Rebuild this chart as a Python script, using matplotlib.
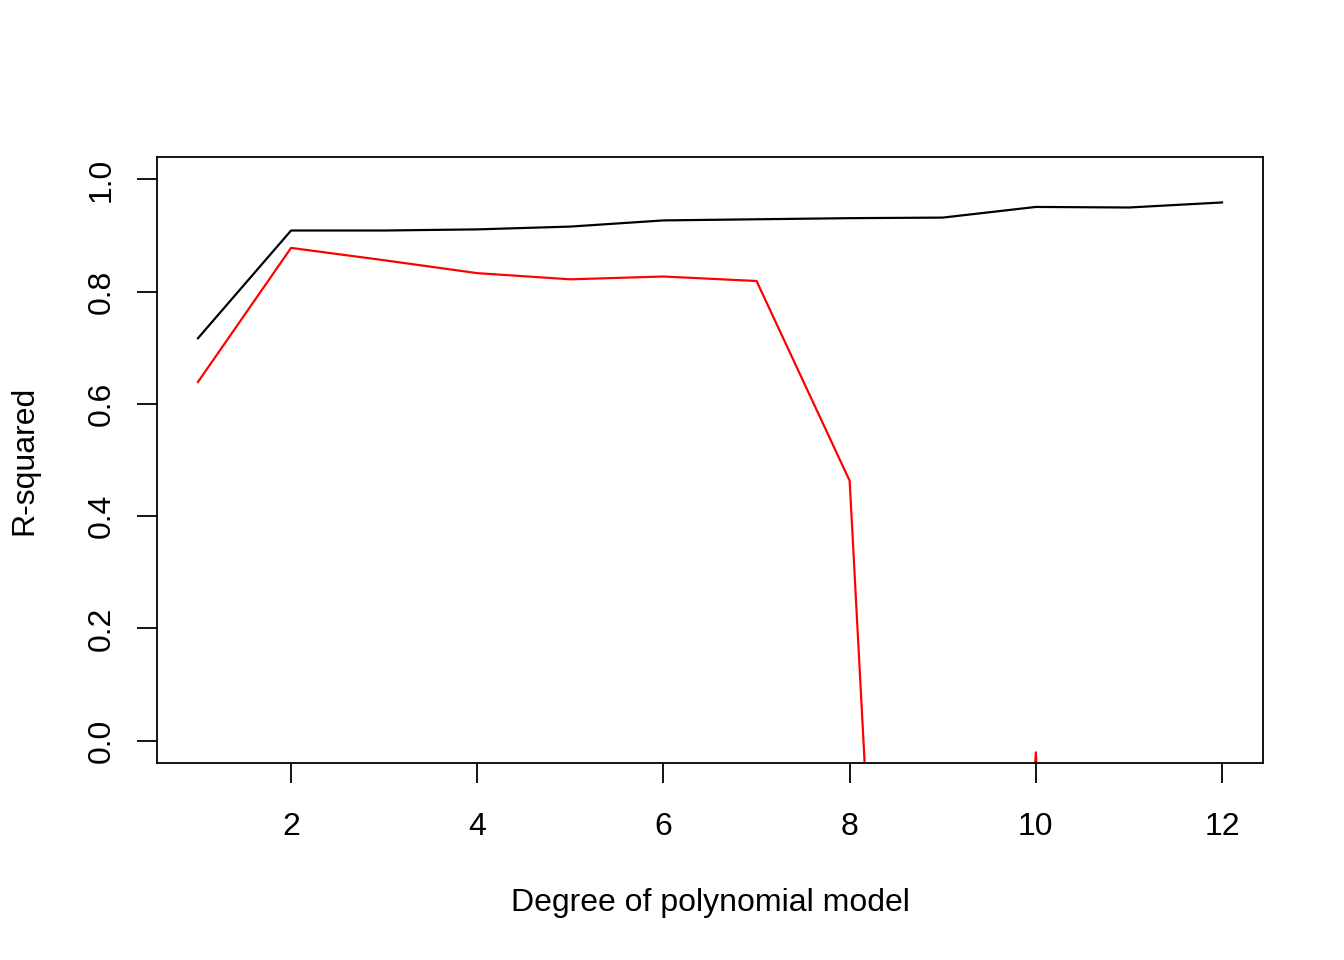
import matplotlib
matplotlib.use("Agg")
import matplotlib.pyplot as plt
import numpy as np

plt.rcParams['font.family'] = ['Liberation Sans', 'DejaVu Sans']

# grau do polinomio e R-quadrado (treino em preto, teste em vermelho)
degree = np.arange(1, 13)
r2_train = [0.717, 0.909, 0.909, 0.911, 0.916, 0.927, 0.929, 0.931, 0.932, 0.951, 0.950, 0.959]
r2_test = [0.639, 0.878, 0.856, 0.833, 0.822, 0.827, 0.819, 0.463, -2.66, -0.021, -3.5, -6.0]

fig = plt.figure(figsize=(1344 / 144, 960 / 144), dpi=144)
ax = fig.add_axes([157 / 1344, 1 - 763 / 960, (1263 - 157) / 1344, (763 - 157) / 960])

ax.plot(degree, r2_train, color='black', lw=1.1)
ax.plot(degree, r2_test, color='red', lw=1.1)

# limites no estilo do R (4% de folga)
ax.set_xlim(1 - 0.44, 12 + 0.44)
ax.set_ylim(-0.04, 1.04)

ax.set_xticks([2, 4, 6, 8, 10, 12])
ax.set_yticks([0.0, 0.2, 0.4, 0.6, 0.8, 1.0])
ax.set_yticklabels(['0.0', '0.2', '0.4', '0.6', '0.8', '1.0'], rotation=90, va='center')
ax.tick_params(axis='both', direction='out', length=10, width=0.9, labelsize=16)
ax.tick_params(axis='x', pad=14.5)
ax.tick_params(axis='y', pad=10)

for s in ax.spines.values():
    s.set_linewidth(0.9)

ax.set_xlabel('Degree of polynomial model', fontsize=16)
ax.set_ylabel('R-squared', fontsize=16)
ax.xaxis.set_label_coords(0.5, -(888 - 763) / 606)
ax.yaxis.set_label_coords(-(157 - 39) / 1106, 0.5)

fig.savefig('out.png', dpi=144)
